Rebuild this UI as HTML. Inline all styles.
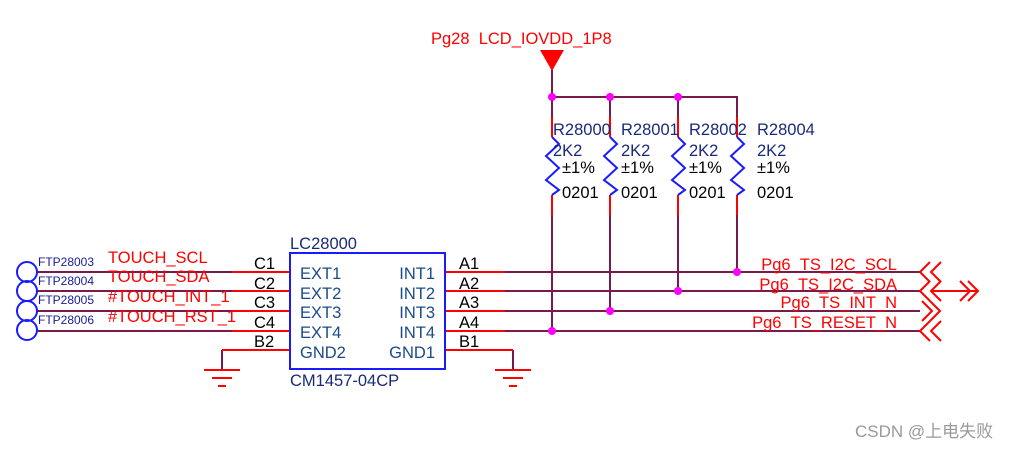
<!DOCTYPE html>
<html><head><meta charset="utf-8"><style>
html,body{margin:0;padding:0;background:#fff;width:1021px;height:450px;overflow:hidden}
text{font-family:"Liberation Sans","Noto Sans CJK SC",sans-serif}
</style></head><body>
<svg width="1021" height="450" viewBox="0 0 1021 450" xmlns="http://www.w3.org/2000/svg">
<g fill="none" stroke-width="2">
<polygon points="540,50 564,50 552,71" fill="#f00" stroke="none"/>
<line x1="552" y1="70" x2="552" y2="97" stroke="#7a1a4a"/>
<polyline points="552,97 737,97 737,123" stroke="#7a1a4a"/>
<line x1="610" y1="97" x2="610" y2="123" stroke="#7a1a4a"/>
<line x1="678" y1="97" x2="678" y2="123" stroke="#7a1a4a"/>
<line x1="552" y1="97" x2="552" y2="123" stroke="#7a1a4a"/>
</g>
<g fill="none" stroke-width="2">
<g stroke="#f00">
<line x1="552" y1="117" x2="552" y2="137"/><line x1="552" y1="195" x2="552" y2="215"/>
<line x1="610" y1="117" x2="610" y2="137"/><line x1="610" y1="195" x2="610" y2="215"/>
<line x1="678" y1="117" x2="678" y2="137"/><line x1="678" y1="195" x2="678" y2="215"/>
<line x1="737" y1="117" x2="737" y2="137"/><line x1="737" y1="195" x2="737" y2="215"/>
</g>
<g stroke="#1a1aff">
<polyline points="552,137 559,144 546,156 559,168 546,180 559,190 552,195"/>
<polyline points="610,137 617,144 604,156 617,168 604,180 617,190 610,195"/>
<polyline points="678,137 685,144 672,156 685,168 672,180 685,190 678,195"/>
<polyline points="737,137 744,144 731,156 744,168 731,180 744,190 737,195"/>
</g>
<g stroke="#7a1a4a">
<line x1="552" y1="215" x2="552" y2="331"/>
<line x1="610" y1="215" x2="610" y2="311"/>
<line x1="678" y1="215" x2="678" y2="291"/>
<line x1="737" y1="215" x2="737" y2="272"/>
</g>
</g>
<g fill="none" stroke-width="2">
<g stroke="#7a1a4a">
<line x1="37" y1="272" x2="232" y2="272"/><line x1="37" y1="291" x2="232" y2="291"/>
<line x1="37" y1="311" x2="232" y2="311"/><line x1="37" y1="331" x2="232" y2="331"/>
<polyline points="222,350 222,370"/>
<polyline points="513,350 513,370"/>
<line x1="505" y1="272" x2="920" y2="272"/><line x1="505" y1="291" x2="920" y2="291"/>
<line x1="505" y1="311" x2="920" y2="311"/><line x1="505" y1="331" x2="920" y2="331"/>
</g>
<g stroke="#f00">
<line x1="232" y1="272" x2="290" y2="272"/><line x1="232" y1="291" x2="290" y2="291"/>
<line x1="232" y1="311" x2="290" y2="311"/><line x1="232" y1="331" x2="290" y2="331"/>
<line x1="222" y1="350" x2="290" y2="350"/>
<line x1="445" y1="272" x2="505" y2="272"/><line x1="445" y1="291" x2="505" y2="291"/>
<line x1="445" y1="311" x2="505" y2="311"/><line x1="445" y1="331" x2="505" y2="331"/>
<line x1="445" y1="350" x2="513" y2="350"/>
<line x1="204" y1="370" x2="240" y2="370"/><line x1="212" y1="378" x2="232" y2="378"/><line x1="218" y1="386" x2="226" y2="386"/>
<line x1="495" y1="370" x2="531" y2="370"/><line x1="503" y1="378" x2="523" y2="378"/><line x1="509" y1="386" x2="517" y2="386"/>
<polyline points="930,262 920,272 930,282"/><polyline points="941,262 931,272 941,282"/>
<polyline points="930,281 920,291 930,301"/><polyline points="941,281 931,291 941,301"/>
<line x1="931" y1="291" x2="978" y2="291"/>
<polyline points="960,281 970,291 960,301"/><polyline points="968,281 978,291 968,301"/>
<polyline points="922,301 932,311 922,321"/><polyline points="930,301 940,311 930,321"/>
<polyline points="930,321 920,331 930,341"/><polyline points="941,321 931,331 941,341"/>
</g>
<rect x="290" y="253" width="155" height="116" stroke="#1a1aff"/>
<g stroke="#1a1aff"><circle cx="27" cy="272" r="10"/><circle cx="27" cy="291" r="10"/><circle cx="27" cy="311" r="10"/><circle cx="27" cy="330" r="10"/></g>
</g>
<g fill="#ff00ff">
<circle cx="552" cy="97" r="4"/><circle cx="610" cy="97" r="4"/><circle cx="678" cy="97" r="4"/>
<circle cx="737" cy="272" r="4"/><circle cx="678" cy="291" r="4"/><circle cx="610" cy="311" r="4"/><circle cx="552" cy="331" r="4"/>
</g>
<g font-size="16.5" fill="#f00">
<text x="431" y="44">Pg28&#160;&#160;LCD_IOVDD_1P8</text>
<text x="108" y="263">TOUCH_SCL</text>
<text x="108" y="282">TOUCH_SDA</text>
<text x="108" y="302">#TOUCH_INT_1</text>
<text x="108" y="322">#TOUCH_RST_1</text>
<text x="897" y="270" text-anchor="end">Pg6&#160;&#160;TS_I2C_SCL</text>
<text x="897" y="290" text-anchor="end">Pg6&#160;&#160;TS_I2C_SDA</text>
<text x="897" y="308" text-anchor="end">Pg6&#160;&#160;TS_INT_N</text>
<text x="897" y="328" text-anchor="end">Pg6&#160;&#160;TS_RESET_N</text>
</g>
<g font-size="12" fill="#1a1a99">
<text x="38" y="266">FTP28003</text><text x="38" y="285">FTP28004</text>
<text x="38" y="304">FTP28005</text><text x="38" y="324">FTP28006</text>
</g>
<g font-size="16.5" fill="#1a2a7a">
<text x="553" y="135">R28000</text><text x="621" y="135">R28001</text><text x="689" y="135">R28002</text><text x="757" y="135">R28004</text>
<text x="553" y="156">2K2</text><text x="621" y="156">2K2</text><text x="689" y="156">2K2</text><text x="757" y="156">2K2</text>
<text x="290" y="249">LC28000</text>
<text x="290" y="386">CM1457-04CP</text>
<g fill="#1a4a8a">
<text x="300" y="279">EXT1</text><text x="300" y="299">EXT2</text><text x="300" y="318">EXT3</text><text x="300" y="338">EXT4</text><text x="300" y="358">GND2</text>
<text x="435" y="279" text-anchor="end">INT1</text><text x="435" y="299" text-anchor="end">INT2</text><text x="435" y="318" text-anchor="end">INT3</text><text x="435" y="338" text-anchor="end">INT4</text><text x="435" y="358" text-anchor="end">GND1</text>
</g>
</g>
<g font-size="16.5" fill="#000">
<text x="562" y="173">±1%</text><text x="621" y="173">±1%</text><text x="689" y="173">±1%</text><text x="757" y="173">±1%</text>
<text x="562" y="198">0201</text><text x="621" y="198">0201</text><text x="689" y="198">0201</text><text x="757" y="198">0201</text>
<text x="254" y="269">C1</text><text x="254" y="289">C2</text><text x="254" y="308">C3</text><text x="254" y="328">C4</text><text x="254" y="347">B2</text>
<text x="459" y="269">A1</text><text x="459" y="289">A2</text><text x="459" y="308">A3</text><text x="459" y="328">A4</text><text x="459" y="347">B1</text>
</g>
<text x="855" y="437" font-size="17" fill="#999">CSDN @上电失败</text>
</svg>
</body></html>
